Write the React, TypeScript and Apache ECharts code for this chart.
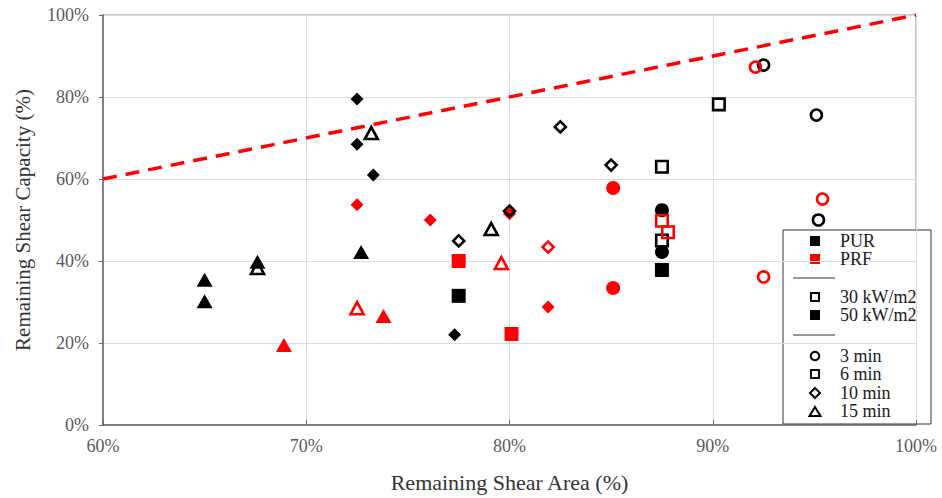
import React, { useEffect, useRef } from "react";
import * as echarts from "echarts";

// X: Remaining Shear Area (%), Y: Remaining Shear Capacity (%)
const xTicks = [60, 70, 80, 90, 100];
const yTicks = [0, 20, 40, 60, 80, 100];

// PUR, 30 kW/m2 (black hollow)
const pur30_3min = [[92.5, 87.8], [95.1, 75.6], [95.2, 50.0]];
const pur30_6min = [[87.5, 63.0], [90.3, 78.2], [87.5, 45.0]];
const pur30_10min = [[77.5, 44.9], [80.0, 52.2], [82.5, 72.7], [85.0, 63.4]];
const pur30_15min = [[67.6, 38.3], [73.2, 71.2], [79.1, 47.8]];
// PUR, 50 kW/m2 (black filled)
const pur50_3min = [[87.5, 52.4], [87.5, 42.2]];
const pur50_6min = [[77.5, 31.5], [87.5, 37.8]];
const pur50_10min = [[72.5, 79.5], [72.5, 68.5], [73.3, 61.0], [77.3, 22.0]];
const pur50_15min = [[65.0, 35.4], [65.0, 30.2], [67.6, 39.8], [72.7, 42.2]];
// PRF, 30 kW/m2 (red hollow)
const prf30_3min = [[92.1, 87.3], [95.4, 55.1], [92.5, 36.1]];
const prf30_6min = [[87.5, 49.8], [87.8, 47.0]];
const prf30_10min = [[81.9, 43.4]];
const prf30_15min = [[72.5, 28.5], [79.6, 39.5]];
// PRF, 50 kW/m2 (red filled)
const prf50_3min = [[85.1, 57.8], [85.1, 33.4]];
const prf50_6min = [[77.5, 40.0], [80.1, 22.2]];
const prf50_10min = [[72.5, 53.7], [76.1, 50.0], [80.0, 51.5], [81.9, 28.8]];
const prf50_15min = [[68.9, 19.5], [73.8, 26.6]];

// 1:1 reference line
const refLine = [[60, 60], [100, 100]];

const legendMaterials = ["PUR", "PRF"];
const legendFlux = ["30 kW/m2", "50 kW/m2"];
const legendTimes = ["3 min", "6 min", "10 min", "15 min"];

const BLACK = "#000000";
const RED = "#ff0000";
const FONT = "Liberation Serif";

const symSize: Record<string, any> = {
  circle: { filled: 14, hollow: 11 },
  rect: { filled: 14, hollow: 11.5 },
  diamond: { filled: 13, hollow: 11 },
  triangle: { filled: [16, 14], hollow: [13, 12] },
};

function mk(name: string, data: number[][], symbol: string, color: string, hollow: boolean) {
  return {
    name,
    type: "scatter",
    data,
    symbol,
    symbolSize: hollow ? symSize[symbol].hollow : symSize[symbol].filled,
    itemStyle: hollow
      ? { color: "rgba(255,255,255,0)", borderColor: color, borderWidth: 2.6, opacity: 1 }
      : { color, borderWidth: 0, opacity: 1 },
    emphasis: { disabled: true },
    z: 3,
  };
}

export default function App() {
  const ref = useRef<HTMLDivElement>(null);
  useEffect(() => {
    document.body.style.margin = "0";
    const chart = echarts.init(ref.current!, null, { renderer: "svg" });

    const lx = 815;
    const tx = 840;
    const textBlock = (lines: string[], yCenter: number, lh: number) => ({
      type: "text",
      z: 101,
      style: {
        text: lines.join("\n"),
        x: tx,
        y: yCenter,
        fill: "#1a1a1a",
        fontSize: 18,
        lineHeight: lh,
        fontFamily: FONT,
        verticalAlign: "middle",
      },
    });
    const legendChildren: any[] = [
      {
        type: "rect",
        shape: { x: 783, y: 230, width: 148, height: 194 },
        style: { fill: "#fff", stroke: "#333", lineWidth: 1 },
      },
      { type: "rect", shape: { x: lx - 5, y: 236, width: 10, height: 10 }, style: { fill: BLACK } },
      { type: "rect", shape: { x: lx - 5, y: 254, width: 10, height: 10 }, style: { fill: RED } },
      textBlock(legendMaterials, 250, 18.6),
      { type: "line", shape: { x1: 793, y1: 278, x2: 835, y2: 278 }, style: { stroke: "#333", lineWidth: 1 } },
      { type: "rect", shape: { x: lx - 4, y: 293, width: 8, height: 8 }, style: { fill: "none", stroke: BLACK, lineWidth: 2 } },
      { type: "rect", shape: { x: lx - 5, y: 310, width: 10, height: 10 }, style: { fill: BLACK } },
      textBlock(legendFlux, 306, 18.6),
      { type: "line", shape: { x1: 793, y1: 335, x2: 835, y2: 335 }, style: { stroke: "#333", lineWidth: 1 } },
      { type: "circle", shape: { cx: lx, cy: 356, r: 4.3 }, style: { fill: "none", stroke: BLACK, lineWidth: 2 } },
      { type: "rect", shape: { x: lx - 4, y: 370, width: 8, height: 8 }, style: { fill: "none", stroke: BLACK, lineWidth: 2 } },
      {
        type: "polygon",
        shape: { points: [[lx, 388], [lx + 5, 393], [lx, 398], [lx - 5, 393]] },
        style: { fill: "none", stroke: BLACK, lineWidth: 2 },
      },
      {
        type: "polygon",
        shape: { points: [[lx, 407], [lx + 5.5, 416], [lx - 5.5, 416]] },
        style: { fill: "none", stroke: BLACK, lineWidth: 2 },
      },
      textBlock(legendTimes, 383.5, 18.3),
    ];

    const option: any = {
      animation: false,
      backgroundColor: "#fff",
      grid: {
        left: 103,
        right: 26,
        top: 15,
        bottom: 73,
        show: true,
        borderColor: "#8c8c8c",
        borderWidth: 1,
      },
      xAxis: {
        type: "value",
        min: xTicks[0],
        max: xTicks[xTicks.length - 1],
        interval: 10,
        name: "Remaining Shear Area (%)",
        nameLocation: "middle",
        nameGap: 46,
        nameTextStyle: { fontFamily: FONT, fontSize: 22, color: "#333" },
        axisLine: { show: true, lineStyle: { color: "#666", width: 1.5 } },
        axisTick: { show: true, inside: true, length: 5, lineStyle: { color: "#666" } },
        axisLabel: {
          formatter: "{value}%",
          fontFamily: FONT,
          fontSize: 18,
          color: "#595959",
          margin: 12,
        },
        splitLine: { show: true, lineStyle: { color: "#dcdcdc", width: 1 } },
      },
      yAxis: {
        type: "value",
        min: yTicks[0],
        max: yTicks[yTicks.length - 1],
        interval: 20,
        name: "Remaining Shear Capacity (%)",
        nameLocation: "middle",
        nameGap: 70,
        nameTextStyle: { fontFamily: FONT, fontSize: 21, color: "#333" },
        axisLine: { show: true, lineStyle: { color: "#666", width: 1.5 } },
        axisTick: { show: true, inside: false, length: 4, lineStyle: { color: "#666" } },
        axisLabel: {
          formatter: "{value}%",
          fontFamily: FONT,
          fontSize: 18,
          color: "#595959",
          margin: 14,
        },
        splitLine: { show: true, lineStyle: { color: "#dcdcdc", width: 1 } },
      },
      series: [
        {
          name: "1:1",
          type: "line",
          data: refLine,
          symbol: "none",
          lineStyle: { color: RED, width: 3.5, type: [14, 9], opacity: 1 },
          z: 2,
          emphasis: { disabled: true },
        },
        mk("PUR 50 3min", pur50_3min, "circle", BLACK, false),
        mk("PUR 50 6min", pur50_6min, "rect", BLACK, false),
        mk("PUR 50 10min", pur50_10min, "diamond", BLACK, false),
        mk("PUR 50 15min", pur50_15min, "triangle", BLACK, false),
        mk("PRF 50 3min", prf50_3min, "circle", RED, false),
        mk("PRF 50 6min", prf50_6min, "rect", RED, false),
        mk("PRF 50 10min", prf50_10min, "diamond", RED, false),
        mk("PRF 50 15min", prf50_15min, "triangle", RED, false),
        mk("PUR 30 3min", pur30_3min, "circle", BLACK, true),
        mk("PUR 30 6min", pur30_6min, "rect", BLACK, true),
        mk("PUR 30 10min", pur30_10min, "diamond", BLACK, true),
        mk("PUR 30 15min", pur30_15min, "triangle", BLACK, true),
        mk("PRF 30 3min", prf30_3min, "circle", RED, true),
        mk("PRF 30 6min", prf30_6min, "rect", RED, true),
        mk("PRF 30 10min", prf30_10min, "diamond", RED, true),
        mk("PRF 30 15min", prf30_15min, "triangle", RED, true),
      ],
      graphic: [{ type: "group", z: 100, children: legendChildren }],
    };
    chart.setOption(option);
    return () => chart.dispose();
  }, []);
  return <div ref={ref} style={{ width: 942, height: 498 }} />;
}
